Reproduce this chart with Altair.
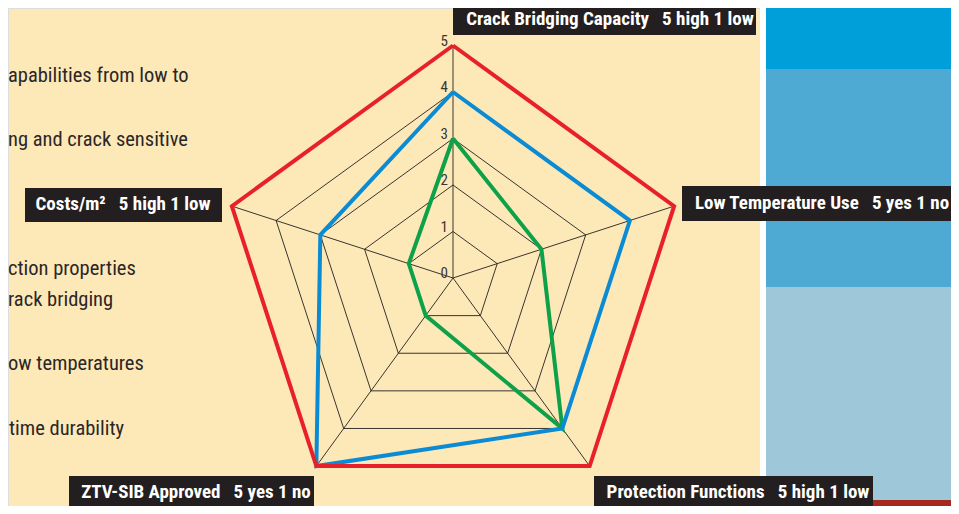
import altair as alt
import pandas as pd

# ---- data ----
axis_names = ["Crack Bridging Capacity", "Low Temperature Use", "Protection Functions",
              "ZTV-SIB Approved", "Costs/m²"]
axis_scales = ["5 high 1 low", "5 yes 1 no", "5 high 1 low", "5 yes 1 no", "5 high 1 low"]
red_values = [5, 5, 5, 5, 5]
blue_values = [4, 4, 4, 5, 3]
green_values = [3, 2, 4, 1, 1]
grid_levels = [1, 2, 3, 4, 5]
tick_values = [0, 1, 2, 3, 4, 5]
left_text = ["apabilities from low to", "ng and crack sensitive", "ction properties",
             "rack bridging", "ow temperatures", "time durability"]

# ---- style / layout ----
W, H = 943, 498
CX, CY, UNIT = 445, 270, 46.5
CREAM = "#FDE9B8"
DARK = "#231F20"
COND = "Liberation Sans Narrow, Roboto Condensed, DejaVu Sans Condensed, Arial Narrow, sans-serif"
series_colors = {"green": "#0FA14A", "blue": "#0B8BD3", "red": "#E8202A"}

xs = alt.Scale(domain=[-CX / UNIT, (W - CX) / UNIT], nice=False, zero=False)
ys = alt.Scale(domain=[-(H - CY) / UNIT, CY / UNIT], nice=False, zero=False)
N = len(axis_names)
XEXPR = f"datum.r * sin(datum.idx * 2 * PI / {N})"
YEXPR = f"datum.r * cos(datum.idx * 2 * PI / {N})"


def one():
    return alt.Data(values=[{}])


def rect(x1, x2, y1, y2, color):
    return alt.Chart(one()).mark_rect(color=color).encode(
        x=alt.value(x1), x2=alt.value(x2), y=alt.value(y1), y2=alt.value(y2))


def txt(x, y, s, size, color, weight="normal", align="center"):
    return alt.Chart(one()).mark_text(
        font=COND, fontSize=size, fontWeight=weight, color=color, align=align,
        baseline="middle").encode(x=alt.value(x), y=alt.value(y), text=alt.value(s))


layers = []
# right side colour blocks
layers += [
    rect(752, 758, 0, H, "#FFFFFF"),
    rect(758, W, 0, 61, "#009FDA"),
    rect(758, W, 61, 279, "#4EAAD3"),
    rect(758, W, 279, 492, "#9EC7DA"),
    rect(758, W, 492, H, "#A4291E"),
]

# left body text (cropped in the reference)
left_x = [0, 0, 0, 0, 0, 1]
left_y = [68, 132, 261, 292, 356, 421]
for s, xx, yy in zip(left_text, left_x, left_y):
    layers.append(txt(xx, yy, s, 20.5, "#2B2627", align="left"))

# grid pentagons
grid_rows = []
for lv in grid_levels:
    for i in range(N + 1):
        grid_rows.append({"level": lv, "idx": i % N, "ord": i, "r": lv})
grid = alt.Chart(pd.DataFrame(grid_rows)).transform_calculate(
    px=XEXPR, py=YEXPR).mark_line(color=DARK, strokeWidth=0.9, strokeJoin="miter").encode(
    x=alt.X("px:Q", scale=xs, axis=None), y=alt.Y("py:Q", scale=ys, axis=None),
    detail="level:N", order="ord:Q")
layers.append(grid)

# spokes
spoke_rows = []
for i in range(N):
    spoke_rows.append({"idx": i, "ord": 0, "r": 0})
    spoke_rows.append({"idx": i, "ord": 1, "r": grid_levels[-1]})
spokes = alt.Chart(pd.DataFrame(spoke_rows)).transform_calculate(
    px=XEXPR, py=YEXPR).mark_line(color=DARK, strokeWidth=0.9).encode(
    x=alt.X("px:Q", scale=xs, axis=None), y=alt.Y("py:Q", scale=ys, axis=None),
    detail="idx:N", order="ord:Q")
layers.append(spokes)

# tick labels on the top spoke
ticks = alt.Chart(pd.DataFrame({"r": tick_values, "idx": [0] * len(tick_values),
                                "lab": [str(t) for t in tick_values]})).transform_calculate(
    px=XEXPR, py=YEXPR).mark_text(font=COND, fontSize=15, color="#3A3637", align="right",
                                  baseline="alphabetic", dx=-5, dy=0).encode(
    x=alt.X("px:Q", scale=xs, axis=None), y=alt.Y("py:Q", scale=ys, axis=None),
    text="lab:N")
layers.append(ticks)

# series polygons
for name, vals in [("green", green_values), ("blue", blue_values), ("red", red_values)]:
    rows = [{"idx": i % N, "ord": i, "r": vals[i % N]} for i in range(N + 1)]
    layers.append(
        alt.Chart(pd.DataFrame(rows)).transform_calculate(px=XEXPR, py=YEXPR)
        .mark_line(color=series_colors[name], strokeWidth=4, strokeJoin="miter",
                   strokeMiterLimit=10)
        .encode(x=alt.X("px:Q", scale=xs, axis=None), y=alt.Y("py:Q", scale=ys, axis=None),
                order="ord:Q"))

# axis label boxes
boxes = [  # x1, x2, y1, y2, text x, text y
    (445, 748, 0, 27, 602, 11),
    (674, 943, 178, 213, 814, 195),
    (586, 865, 468, 498, 730, 484),
    (61, 306, 468, 498, 188, 484),
    (17, 214, 180, 214, 115, 196),
]
for (x1, x2, y1, y2, tx, ty), nm, sc in zip(boxes, axis_names, axis_scales):
    layers.append(rect(x1, x2, y1, y2, DARK))
    layers.append(txt(tx, ty, nm + "\u00a0\u00a0\u00a0" + sc, 19, "#FFFFFF", weight="bold"))

chart = alt.layer(*layers).properties(
    width=W, height=H, autosize=alt.AutoSizeParams(type="none"), padding=0
).configure_view(stroke=None).configure(background=CREAM)

chart.save("out.html", embed_options={"renderer": "svg", "actions": False})
